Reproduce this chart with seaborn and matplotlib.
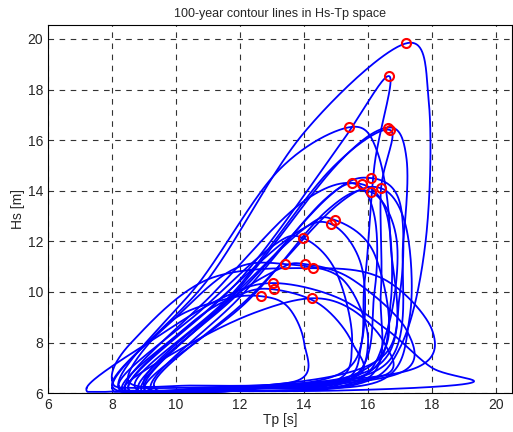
import numpy as np
import matplotlib
matplotlib.use("Agg")
import matplotlib.pyplot as plt
import seaborn as sns

# contour key points (Tp, Hs), traced clockwise-ish from bottom left
contours = [
    [(8.0, 6.2), (11.0, 10.5), (14.0, 16.3), (17.2, 19.83), (17.9, 17.5), (17.8, 12.0), (17.0, 7.8), (15.5, 6.3), (11.5, 6.1)],
    [(8.5, 6.2), (12.0, 10.5), (15.0, 15.6), (16.66, 18.53), (16.2, 15.0), (15.9, 10.5), (15.4, 7.0), (12.0, 6.2)],
    [(8.2, 6.2), (10.8, 10.5), (13.2, 14.8), (15.41, 16.51), (16.3, 15.5), (16.7, 12.0), (16.5, 7.5), (12.0, 6.2)],
    [(9.0, 6.2), (12.0, 10.2), (15.0, 15.0), (16.63, 16.5), (17.2, 15.3), (17.1, 12.0), (16.6, 7.2), (12.5, 6.2)],
    [(8.7, 6.3), (11.8, 10.0), (14.8, 14.8), (16.69, 16.4), (16.4, 14.0), (16.4, 10.0), (16.0, 6.6), (12.0, 6.2)],
    [(8.8, 6.2), (12.0, 10.0), (14.8, 13.8), (16.1, 14.5), (17.0, 13.5), (17.0, 10.0), (16.2, 7.0), (12.0, 6.2)],
    [(9.2, 6.2), (12.0, 9.8), (14.6, 13.6), (15.8, 14.26), (16.6, 13.0), (16.7, 9.5), (16.0, 6.8), (12.5, 6.2)],
    [(8.4, 6.2), (11.2, 10.0), (13.8, 13.4), (15.5, 14.3), (16.2, 13.0), (16.2, 10.0), (15.5, 6.6), (11.5, 6.2)],
    [(9.3, 6.3), (12.3, 9.8), (15.0, 13.4), (16.4, 14.1), (17.2, 12.5), (17.3, 9.0), (16.4, 6.5), (12.5, 6.2)],
    [(9.0, 6.2), (12.2, 9.6), (14.7, 13.2), (16.1, 13.95), (16.9, 12.0), (16.6, 8.5), (15.5, 6.4), (12.0, 6.2)],
    [(8.9, 6.2), (11.5, 9.5), (14.0, 12.5), (14.97, 12.84), (16.2, 11.5), (16.6, 8.0), (15.0, 6.5), (11.5, 6.2)],
    [(8.3, 6.2), (11.0, 9.3), (13.6, 12.2), (14.85, 12.68), (15.8, 11.0), (15.8, 8.0), (15.0, 6.4), (11.0, 6.2)],
    [(8.2, 6.3), (10.8, 9.3), (13.0, 11.8), (13.97, 12.13), (15.0, 10.8), (15.5, 8.0), (14.8, 6.4), (11.0, 6.2)],
    [(8.0, 6.3), (10.0, 9.0), (11.8, 10.9), (13.4, 11.1), (15.2, 10.5), (16.0, 8.0), (15.0, 6.3), (10.5, 6.1)],
    [(9.0, 6.3), (11.5, 9.5), (13.2, 10.9), (14.03, 11.1), (15.5, 10.5), (17.2, 8.5), (17.0, 6.8), (13.0, 6.2)],
    [(8.0, 6.5), (8.6, 8.0), (11.0, 10.5), (14.28, 10.94), (16.5, 10.5), (18.0, 8.5), (17.5, 7.0), (14.0, 6.4), (9.0, 6.2)],
    [(7.2, 6.2), (9.5, 8.3), (11.5, 9.8), (13.03, 10.35), (15.0, 9.8), (16.6, 8.5), (18.0, 7.0), (19.2, 6.4), (15.0, 6.1), (9.0, 6.1)],
    [(8.5, 6.2), (10.5, 8.8), (12.0, 9.9), (13.06, 10.1), (14.5, 9.5), (15.5, 8.0), (15.5, 6.6), (11.0, 6.2)],
    [(8.5, 6.5), (9.8, 8.8), (11.5, 9.7), (12.66, 9.83), (13.5, 9.4), (14.0, 8.0), (13.8, 6.5), (10.5, 6.3)],
    [(8.4, 6.3), (10.5, 8.0), (12.5, 9.2), (14.25, 9.75), (15.5, 9.3), (16.5, 8.0), (16.5, 6.7), (13.0, 6.3), (9.5, 6.1)],
]
peak_tp = [17.2, 16.66, 15.41, 16.63, 16.69, 16.1, 15.8, 15.5, 16.4, 16.1,
           14.97, 14.85, 13.97, 13.4, 14.03, 14.28, 13.03, 13.06, 12.66, 14.25]
peak_hs = [19.83, 18.53, 16.51, 16.5, 16.4, 14.5, 14.26, 14.3, 14.1, 13.95,
           12.84, 12.68, 12.13, 11.1, 11.1, 10.94, 10.35, 10.1, 9.83, 9.75]


def closed_spline(pts, n=40):
    p = np.array(pts, dtype=float)
    m = len(p)
    out = []
    for i in range(m):
        p0, p1, p2, p3 = p[i - 1], p[i], p[(i + 1) % m], p[(i + 2) % m]
        t = np.linspace(0, 1, n, endpoint=False)[:, None]
        seg = 0.5 * ((2 * p1) + (-p0 + p2) * t + (2 * p0 - 5 * p1 + 4 * p2 - p3) * t ** 2
                     + (-p0 + 3 * p1 - 3 * p2 + p3) * t ** 3)
        out.append(seg)
    out.append(p[:1])
    c = np.vstack(out)
    c[:, 1] = np.maximum(c[:, 1], 6.05)
    return c


sns.set_style("white")
plt.rcParams["font.family"] = ["Liberation Sans", "DejaVu Sans"]
fig = plt.figure(figsize=(5.13, 4.32), dpi=100)
ax = fig.add_axes([0.094, 0.09, 0.904, 0.852])

for pts in contours:
    c = closed_spline(pts)
    sns.lineplot(x=c[:, 0], y=c[:, 1], sort=False, color="blue", lw=1.3, ax=ax, estimator=None)

ax.plot(peak_tp, peak_hs, "o", mfc="none", mec="red", ms=6.5, mew=1.5)

ax.set_xlim(6, 20.5)
ax.set_ylim(6, 20.55)
ax.set_xticks(range(6, 21, 2))
ax.set_yticks(range(6, 21, 2))
ax.grid(True, color="#333333", ls=(0, (5, 5)), lw=0.8)
for s in ax.spines.values():
    s.set_color("black")
    s.set_linewidth(0.8)
ax.tick_params(direction="in", labelsize=10, length=4)
ax.set_xlabel("Tp [s]", fontsize=10, labelpad=1)
ax.set_ylabel("Hs [m]", fontsize=10, labelpad=2)
ax.set_title("100-year contour lines in Hs-Tp space", fontsize=9)
fig.savefig("out.png", dpi=100)
